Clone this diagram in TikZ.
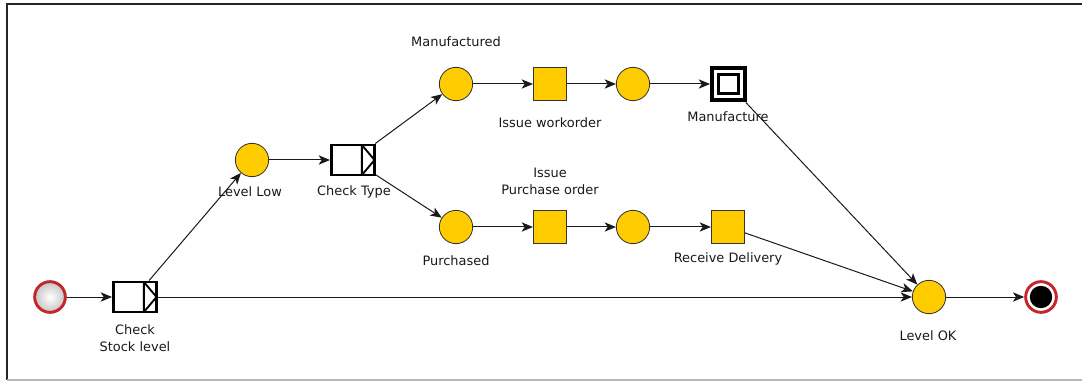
\documentclass[tikz,border=0pt]{standalone}
\usepackage{fontspec}
\setmainfont{DejaVu Sans}
\usepackage{tikz}
\usetikzlibrary{positioning,arrows.meta,shadows}
\usepackage{xcolor}

\definecolor{bpmngelb}{RGB}{255,204,0}
\definecolor{bpmnrot}{RGB}{196,38,42}

\tikzset{
  stelle/.style={circle,draw=black!80,line width=0.6pt,fill=bpmngelb,
    minimum size=25pt,inner sep=0pt},
  aufgabe/.style={rectangle,draw=black!80,line width=0.6pt,fill=bpmngelb,
    minimum size=25pt,inner sep=0pt},
  teilprozess/.style={rectangle,draw=black,line width=2.2pt,fill=white,
    minimum width=32.3pt,minimum height=22.5pt,inner sep=0pt,
    path picture={
      \draw[line width=1.4pt]
        ([xshift=-9.5pt]path picture bounding box.north east)
          -- ([xshift=-9.5pt]path picture bounding box.south east)
        ([xshift=-9.5pt]path picture bounding box.north east)
          -- (path picture bounding box.east)
          -- ([xshift=-9.5pt]path picture bounding box.south east);
    }},
  schleife/.style={rectangle,draw=black,line width=3pt,fill=white,
    minimum size=24.7pt,inner sep=0pt,
    path picture={
      \draw[line width=2.2pt]
        ([shift={(-7.3pt,-7.3pt)}]path picture bounding box.center)
          rectangle ([shift={(7.3pt,7.3pt)}]path picture bounding box.center);
    }},
  start/.style={circle,draw=bpmnrot,line width=2.2pt,inner color=white,
    outer color=gray!45,minimum size=23pt,inner sep=0pt,
    drop shadow={opacity=0.25,shadow xshift=0.8pt,shadow yshift=-0.8pt}},
  ende/.style={circle,draw=bpmnrot,line width=2.2pt,fill=white,
    minimum size=23pt,inner sep=0pt,
    drop shadow={opacity=0.25,shadow xshift=0.8pt,shadow yshift=-0.8pt},
    path picture={\fill[black] (path picture bounding box.center) circle (8.4pt);}},
  beschr/.style={text=black!90,align=center,inner sep=0pt,
    font={\fontsize{9.7pt}{12.75pt}\selectfont}},
  pfeil/.style={draw=black!90,line width=0.75pt,
    -{Stealth[length=8.5pt,width=7pt,inset=2.3pt]}}
}

\begin{document}
\begin{tikzpicture}[x=0.75pt,y=-0.75pt]
  \useasboundingbox (0,0) rectangle (1082,381);

  % Rahmen
  \draw[black!85,line width=1.3pt] (7,380) -- (7,4) -- (1082,4);
  \draw[gray!55,line width=0.8pt] (7,380) -- (1082,380);

  % Knoten
  \node[start] (start) at (50,297) {};
  \node[teilprozess] (stock) at (135,297) {};
  \node[stelle] (low) at (252,160) {};
  \node[teilprozess] (type) at (353,160) {};
  \node[stelle] (manu) at (456,84) {};
  \node[aufgabe] (work) at (550,84) {};
  \node[stelle] (mdone) at (633,84) {};
  \node[schleife] (fert) at (728.5,84) {};
  \node[stelle] (purch) at (456,227) {};
  \node[aufgabe] (order) at (550,227) {};
  \node[stelle] (odone) at (633,227) {};
  \node[aufgabe] (deliv) at (728,227) {};
  \node[stelle] (ok) at (929,297) {};
  \node[ende] (ende) at (1041,297) {};

  % Beschriftungen
  \node[beschr] (lstock) at (135,338.5) {Check\\Stock level};
  \node[beschr] (llow) at (250,192) {Level Low};
  \node[beschr] (ltype) at (354,192) {Check Type};
  \node[beschr] (lmanu) at (456,42) {Manufactured};
  \node[beschr] (lwork) at (550,123) {Issue workorder};
  \node[beschr] (lfert) at (728,117) {Manufacture};
  \node[beschr] (lorder) at (550,181.5) {Issue\\Purchase order};
  \node[beschr] (lpurch) at (456,261) {Purchased};
  \node[beschr] (ldeliv) at (728,259) {Receive Delivery};
  \node[beschr] (lok) at (928,336) {Level OK};

  % Kanten
  \foreach \a/\b in {start/stock, stock/low, low/type, type/manu, type/purch,
                     manu/work, work/mdone, mdone/fert,
                     purch/order, order/odone, odone/deliv,
                     fert/ok, deliv/ok, stock/ok, ok/ende}{
    \draw[pfeil] (\a) -- (\b);
  }

\end{tikzpicture}
\end{document}
